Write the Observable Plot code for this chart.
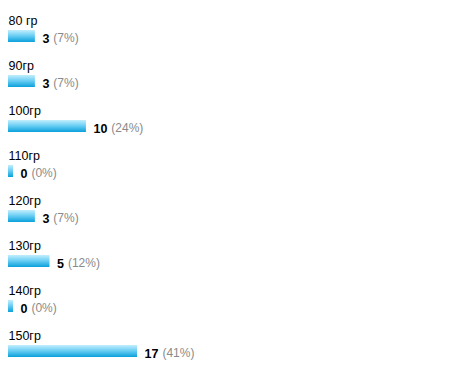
<!DOCTYPE html>
<html>
<head>
<meta charset="utf-8">
<script src="https://cdn.jsdelivr.net/npm/d3@7"></script>
<script src="https://cdn.jsdelivr.net/npm/@observablehq/plot@0.6"></script>
<style>
  html, body { margin: 0; padding: 0; background: #fff; }
  #chart svg { display: block; }
</style>
</head>
<body>
<div id="chart"></div>
<script>
// Poll results: answer options, vote counts and shares
const options = ["80 гр", "90гр", "100гр", "110гр", "120гр", "130гр", "140гр", "150гр"];
const votes = [3, 3, 10, 0, 3, 5, 0, 17];
const shares = ["7%", "7%", "24%", "0%", "7%", "12%", "0%", "41%"];

const rows = options.map((label, i) => ({label, votes: votes[i], share: `(${shares[i]})`}));

const font = "Liberation Sans, Arial, sans-serif";

const chart = Plot.plot({
  width: 450,
  height: 376,
  margin: 0,
  style: {fontFamily: font, fontSize: "12px", background: "#fff"},
  x: {domain: [0, 17], range: [13, 137], axis: null},
  y: {domain: options, range: [30, 357], paddingInner: 33 / 45, paddingOuter: 0, axis: null},
  marks: [
    // bars start a few pixels left of zero so empty options still show a stub
    Plot.barX(rows, {x1: 0, x2: "votes", y: "label", fill: "url(#barGradient)", insetLeft: -5}),
    // option label above each bar
    Plot.text(rows, {x: 0, y: "label", text: "label", textAnchor: "start", lineAnchor: "bottom",
      dx: -5, dy: -12, fill: "#000", fontSize: 12.5}),
    // vote count
    Plot.text(rows, {x: "votes", y: "label", text: d => String(d.votes), textAnchor: "start",
      dx: 7, dy: 2, fill: "#000", fontWeight: "bold", fontSize: 12.5, className: "vote-count"}),
    // share in parentheses, shifted after the count once measured
    Plot.text(rows, {x: "votes", y: "label", text: "share", textAnchor: "start",
      dx: 7, dy: 2, fill: "#8a8a8a", fontSize: 12, className: "vote-share"})
  ]
});

document.getElementById("chart").append(chart);

// vertical gradient used by the bars
const svgNS = "http://www.w3.org/2000/svg";
const defs = document.createElementNS(svgNS, "defs");
const grad = document.createElementNS(svgNS, "linearGradient");
grad.setAttribute("id", "barGradient");
grad.setAttribute("x1", "0"); grad.setAttribute("y1", "0");
grad.setAttribute("x2", "0"); grad.setAttribute("y2", "1");
[["0%", "#c2eefc"], ["45%", "#6fd0f5"], ["100%", "#0aa0da"]].forEach(([o, c]) => {
  const s = document.createElementNS(svgNS, "stop");
  s.setAttribute("offset", o);
  s.setAttribute("stop-color", c);
  grad.appendChild(s);
});
defs.appendChild(grad);
chart.insertBefore(defs, chart.firstChild);

// place each share right after its bold count
const counts = chart.querySelectorAll(".vote-count text");
const sharesText = chart.querySelectorAll(".vote-share text");
sharesText.forEach((t, i) => {
  const c = counts[i];
  if (!c) return;
  const w = c.getComputedTextLength();
  const x = parseFloat(t.getAttribute("x") || "0");
  t.setAttribute("x", x + w + 4);
});
</script>
</body>
</html>
